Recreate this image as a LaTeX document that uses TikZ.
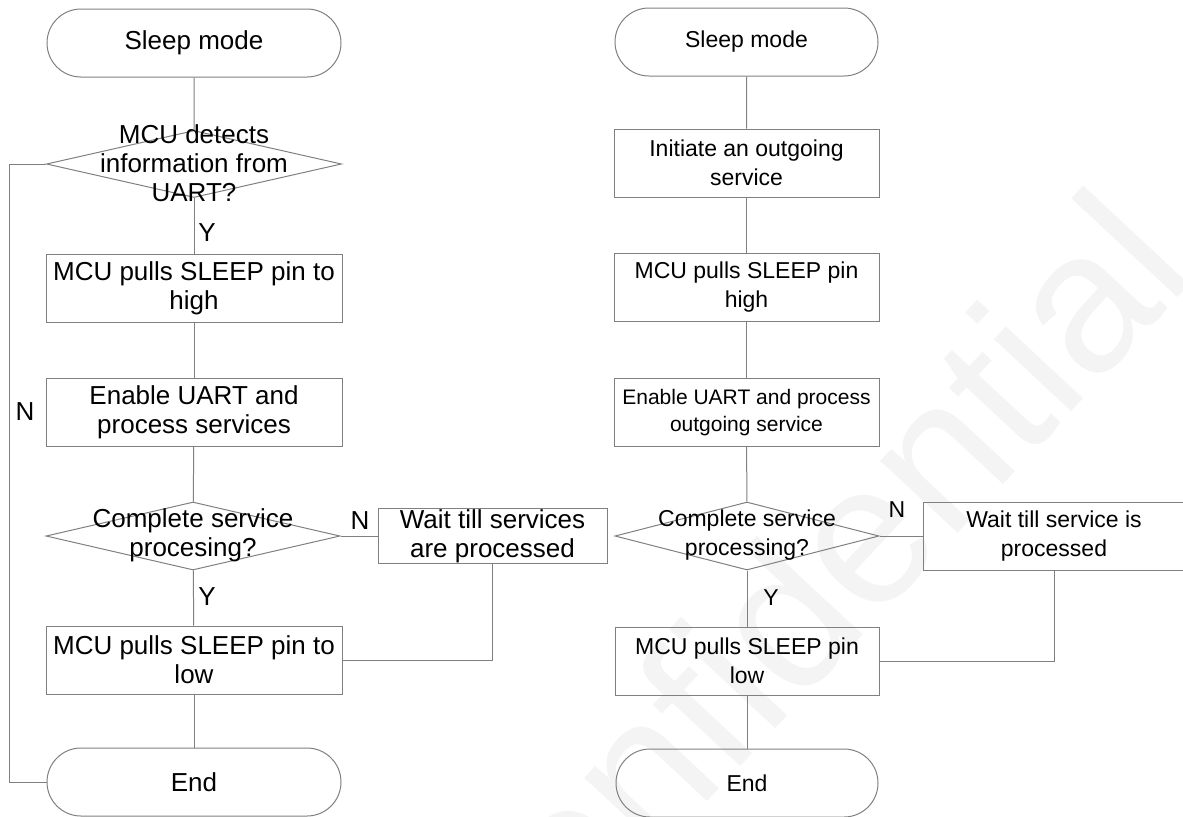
\documentclass[tikz,border=0pt]{standalone}
\usepackage{fontspec}
\setmainfont{Liberation Sans}
\usetikzlibrary{positioning, shapes.geometric, shapes.misc}
\definecolor{edgegray}{HTML}{808080}
\definecolor{wmgray}{HTML}{F4F4F4}

\begin{document}
\begin{tikzpicture}[x=0.5pt, y=-0.5pt,
  lf/.style={font=\fontsize{13}{14.5}\selectfont},
  rf/.style={font=\fontsize{11.5}{14.5}\selectfont},
  bx/.style={draw=edgegray, line width=0.5pt, align=center, inner sep=0.5pt},
  term/.style={bx, rounded rectangle, minimum height=34pt},
  proc/.style={bx, rectangle, minimum height=34pt},
  dec/.style={draw=edgegray, line width=0.5pt, diamond, inner sep=0pt},
  txt/.style={align=center, inner sep=0pt},
  lbl/.style={inner sep=0pt},
  c/.style={draw=edgegray, line width=0.5pt}]
\useasboundingbox (0,0) rectangle (1183,816);
% Watermark behind everything.
\begin{scope}
  \clip (0,0) rectangle (1183,816);
  \node[text=wmgray, font=\fontsize{100}{100}\selectfont, anchor=base west,
        rotate=47, inner sep=0pt] (wmark) at (478,1048) {Confidential};
\end{scope}
% Wake-up by UART (left).
\node[term, lf, minimum width=148pt] (s1) at (194,43) {Sleep mode};
\node[dec, minimum width=147.5pt, minimum height=33.5pt] (d1) at (194,164) {};
\node[txt, lf] (d1t) at (194,163) {MCU detects\\information from\\UART?};
\node[proc, lf, minimum width=148pt] (h1) at (194,288) {MCU pulls SLEEP pin to\\high};
\node[proc, lf, minimum width=148pt] (u1) at (194,412.5) {Enable UART and\\process services};
\node[dec, minimum width=147pt, minimum height=34pt] (d2) at (193,536) {};
\node[txt, lf] (d2t) at (193,535) {Complete service\\procesing?};
\node[proc, lf, right=18.5pt of d2, minimum width=114.5pt, minimum height=27.5pt] (w1)
  {Wait till services\\are processed};
\node[proc, lf, minimum width=148pt] (l1) at (194,660) {MCU pulls SLEEP pin to\\low};
\node[term, lf, minimum width=148pt] (e1) at (194,782) {End};
\node[lbl, lf] (y1) at (207,233) {Y};
\node[lbl, lf] (n1) at (25,412) {N};
\node[lbl, lf] (n2) at (360,521) {N};
\node[lbl, lf] (y2) at (207,597) {Y};
% Outgoing service (right).
\node[term, rf, minimum width=132.5pt] (s2) at (746.5,42) {Sleep mode};
\node[proc, rf, minimum width=132.5pt] (i2) at (746.5,163) {Initiate an outgoing\\service};
\node[proc, rf, minimum width=132.5pt] (h2) at (746.5,287.5) {MCU pulls SLEEP pin\\high};
\node[proc, font=\fontsize{10.5}{13.5}\selectfont, minimum width=132.5pt] (u2) at (746.5,412.5)
  {Enable UART and process\\outgoing service};
\node[dec, minimum width=132pt, minimum height=34pt] (d3) at (747,536) {};
\node[txt, rf] (d3t) at (747,535) {Complete service\\processing?};
\node[proc, rf, right=21.5pt of d3, minimum width=131pt] (w2) {Wait till service is\\processed};
\node[proc, rf, minimum width=132pt] (l2) at (747,661) {MCU pulls SLEEP pin\\low};
\node[term, rf, minimum width=132pt] (e2) at (747,783) {End};
\node[lbl, rf] (n3) at (897,510) {N};
\node[lbl, rf] (y3) at (771,598) {Y};
% Connectors, no arrow tips.
\draw[c] (s1)--(d1); \draw[c] (d1)--(h1); \draw[c] (h1)--(u1);
\draw[c] (u1)--(d2); \draw[c] (d2)--(l1); \draw[c] (l1)--(e1);
\draw[c] (d1.west)--++(-37,0)|-(e1.west);
\draw[c] (d2.east)--(w1.west);
\draw[c] (w1.south)|-(l1.east);
\draw[c] (s2)--(i2); \draw[c] (i2)--(h2); \draw[c] (h2)--(u2);
\draw[c] (u2)--(d3); \draw[c] (d3)--(l2); \draw[c] (l2)--(e2);
\draw[c] (d3.east)--(w2.west);
\draw[c] (w2.south)|-(l2.east);
\end{tikzpicture}
\end{document}
